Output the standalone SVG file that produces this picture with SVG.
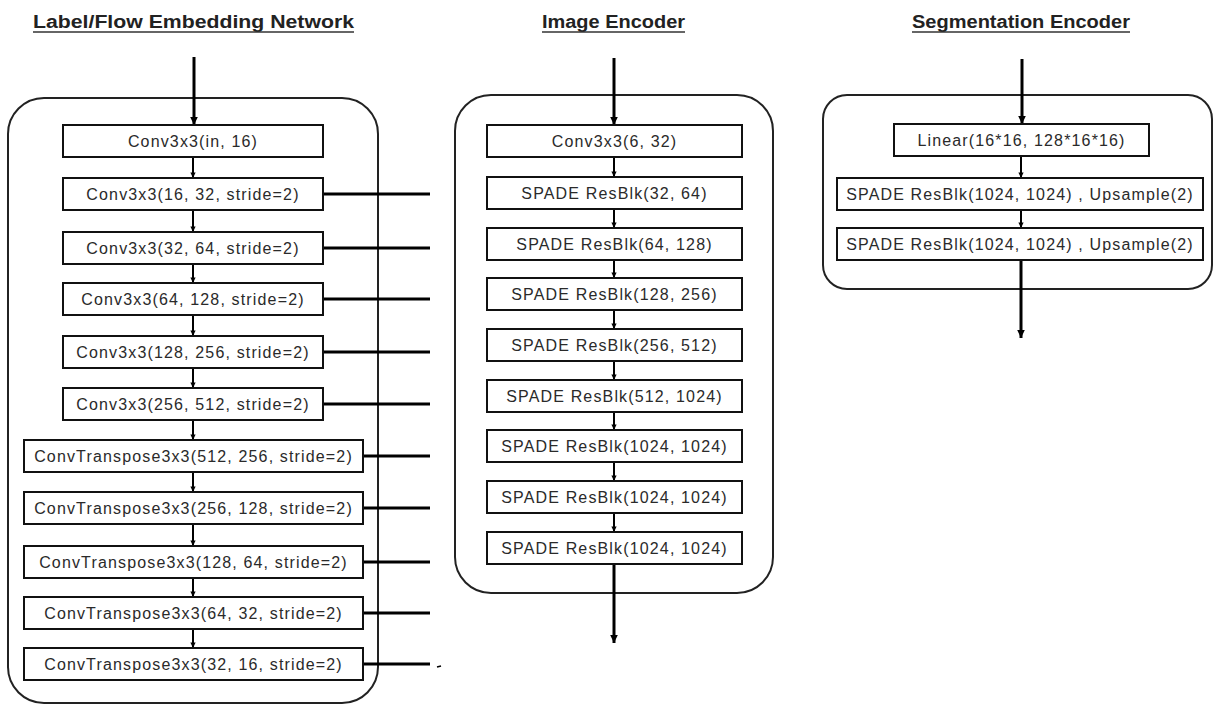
<svg xmlns="http://www.w3.org/2000/svg" width="1214" height="705" viewBox="0 0 1214 705">
<style>
  .title { font-family: "Liberation Sans", Arial, sans-serif; font-weight: bold; font-size: 18px; fill: #222; text-anchor: middle; }
  .uline { stroke: #333; stroke-width: 1.5; }
  .panel { fill: none; stroke: #222; stroke-width: 2; }
  .box { fill: #fff; stroke: #111; stroke-width: 2; }
  .lbl { font-family: "Liberation Sans", Arial, sans-serif; font-size: 16px; fill: #2a2a2a; text-anchor: middle; letter-spacing: 1.15px; }
  .io { stroke: #000; stroke-width: 3; fill: none; }
  .link { stroke: #000; stroke-width: 2; fill: none; }
  .out { stroke: #000; stroke-width: 3; fill: none; }
</style>
<defs>
  <marker id="ah" markerUnits="userSpaceOnUse" markerWidth="10" markerHeight="10" viewBox="0 0 10 10" refX="10" refY="5" orient="auto">
    <path d="M2,1.2 L10,5 L2,8.8 Z" fill="#000"/>
  </marker>
  <marker id="ahs" markerUnits="userSpaceOnUse" markerWidth="6" markerHeight="6" viewBox="0 0 6 6" refX="6" refY="3" orient="auto">
    <path d="M0.5,0.4 L6,3 L0.5,5.6 Z" fill="#000"/>
  </marker>
</defs>

<!-- Titles -->
<g id="titles">
  <text class="title" x="193.5" y="27.5" textLength="321" lengthAdjust="spacingAndGlyphs">Label/Flow Embedding Network</text>
  <line class="uline" x1="33" y1="32" x2="354" y2="32"/>
  <text class="title" x="613.5" y="27.5" textLength="143" lengthAdjust="spacingAndGlyphs">Image Encoder</text>
  <line class="uline" x1="542" y1="32" x2="685" y2="32"/>
  <text class="title" x="1021" y="27.5" textLength="218" lengthAdjust="spacingAndGlyphs">Segmentation Encoder</text>
  <line class="uline" x1="912" y1="32" x2="1130" y2="32"/>
</g>

<!-- Panels -->
<g id="panel-label-flow"><rect class="panel" x="8" y="98" width="370" height="605" rx="36" ry="36"/></g>
<g id="panel-image-encoder"><rect class="panel" x="455" y="95" width="318" height="498" rx="36" ry="36"/></g>
<g id="panel-segmentation-encoder"><rect class="panel" x="823" y="95" width="389" height="194" rx="24" ry="24"/></g>

<!-- Connectors -->
<g id="connectors">
  <!-- left column -->
  <line class="io" x1="194" y1="57" x2="194" y2="125" marker-end="url(#ah)"/>
  <line class="link" x1="193" y1="157" x2="193" y2="178" marker-end="url(#ahs)"/>
  <line class="link" x1="193" y1="210" x2="193" y2="232" marker-end="url(#ahs)"/>
  <line class="link" x1="193" y1="264" x2="193" y2="283" marker-end="url(#ahs)"/>
  <line class="link" x1="193" y1="315" x2="193" y2="336" marker-end="url(#ahs)"/>
  <line class="link" x1="193" y1="368" x2="193" y2="388" marker-end="url(#ahs)"/>
  <line class="link" x1="193" y1="420" x2="193" y2="440" marker-end="url(#ahs)"/>
  <line class="link" x1="193" y1="472" x2="193" y2="492" marker-end="url(#ahs)"/>
  <line class="link" x1="193" y1="524" x2="193" y2="546" marker-end="url(#ahs)"/>
  <line class="link" x1="193" y1="578" x2="193" y2="597" marker-end="url(#ahs)"/>
  <line class="link" x1="193" y1="629" x2="193" y2="648" marker-end="url(#ahs)"/>
  <!-- left outputs -->
  <line class="out" x1="323" y1="194" x2="430" y2="194"/>
  <line class="out" x1="323" y1="248" x2="430" y2="248"/>
  <line class="out" x1="323" y1="299" x2="430" y2="299"/>
  <line class="out" x1="323" y1="352" x2="430" y2="352"/>
  <line class="out" x1="323" y1="404" x2="430" y2="404"/>
  <line class="out" x1="363" y1="456" x2="430" y2="456"/>
  <line class="out" x1="363" y1="508" x2="430" y2="508"/>
  <line class="out" x1="363" y1="562" x2="430" y2="562"/>
  <line class="out" x1="363" y1="613" x2="430" y2="613"/>
  <line class="out" x1="363" y1="664" x2="430" y2="664"/>
  <line x1="437" y1="667" x2="441" y2="666" stroke="#000" stroke-width="1.5"/>
  <!-- middle column -->
  <line class="io" x1="614" y1="58" x2="614" y2="125" marker-end="url(#ah)"/>
  <line class="link" x1="614" y1="157" x2="614" y2="177" marker-end="url(#ahs)"/>
  <line class="link" x1="614" y1="209" x2="614" y2="228" marker-end="url(#ahs)"/>
  <line class="link" x1="614" y1="260" x2="614" y2="278" marker-end="url(#ahs)"/>
  <line class="link" x1="614" y1="310" x2="614" y2="329" marker-end="url(#ahs)"/>
  <line class="link" x1="614" y1="361" x2="614" y2="380" marker-end="url(#ahs)"/>
  <line class="link" x1="614" y1="412" x2="614" y2="430" marker-end="url(#ahs)"/>
  <line class="link" x1="614" y1="462" x2="614" y2="481" marker-end="url(#ahs)"/>
  <line class="link" x1="614" y1="513" x2="614" y2="532" marker-end="url(#ahs)"/>
  <line class="io" x1="614" y1="564" x2="614" y2="643" marker-end="url(#ah)"/>
  <!-- right column -->
  <line class="io" x1="1022" y1="59" x2="1022" y2="124" marker-end="url(#ah)"/>
  <line class="link" x1="1021" y1="156" x2="1021" y2="178" marker-end="url(#ahs)"/>
  <line class="link" x1="1021" y1="210" x2="1021" y2="228" marker-end="url(#ahs)"/>
  <line class="io" x1="1021" y1="260" x2="1021" y2="338" marker-end="url(#ah)"/>
</g>

<!-- Label/Flow Embedding Network nodes -->
<g id="lf-conv-in-16"><rect class="box" x="63" y="125" width="260" height="32"/><text class="lbl" x="193" y="146.5">Conv3x3(in, 16)</text></g>
<g id="lf-conv-16-32"><rect class="box" x="63" y="178" width="260" height="32"/><text class="lbl" x="193" y="199.5">Conv3x3(16, 32, stride=2)</text></g>
<g id="lf-conv-32-64"><rect class="box" x="63" y="232" width="260" height="32"/><text class="lbl" x="193" y="253.5">Conv3x3(32, 64, stride=2)</text></g>
<g id="lf-conv-64-128"><rect class="box" x="63" y="283" width="260" height="32"/><text class="lbl" x="193" y="304.5">Conv3x3(64, 128, stride=2)</text></g>
<g id="lf-conv-128-256"><rect class="box" x="63" y="336" width="260" height="32"/><text class="lbl" x="193" y="357.5">Conv3x3(128, 256, stride=2)</text></g>
<g id="lf-conv-256-512"><rect class="box" x="63" y="388" width="260" height="32"/><text class="lbl" x="193" y="409.5">Conv3x3(256, 512, stride=2)</text></g>
<g id="lf-convt-512-256"><rect class="box" x="24" y="440" width="339" height="32"/><text class="lbl" x="193.5" y="461.5">ConvTranspose3x3(512, 256, stride=2)</text></g>
<g id="lf-convt-256-128"><rect class="box" x="24" y="492" width="339" height="32"/><text class="lbl" x="193.5" y="513.5">ConvTranspose3x3(256, 128, stride=2)</text></g>
<g id="lf-convt-128-64"><rect class="box" x="24" y="546" width="339" height="32"/><text class="lbl" x="193.5" y="567.5">ConvTranspose3x3(128, 64, stride=2)</text></g>
<g id="lf-convt-64-32"><rect class="box" x="24" y="597" width="339" height="32"/><text class="lbl" x="193.5" y="618.5">ConvTranspose3x3(64, 32, stride=2)</text></g>
<g id="lf-convt-32-16"><rect class="box" x="24" y="648" width="339" height="32"/><text class="lbl" x="193.5" y="669.5">ConvTranspose3x3(32, 16, stride=2)</text></g>

<!-- Image Encoder nodes -->
<g id="ie-conv-6-32"><rect class="box" x="487" y="125" width="255" height="32"/><text class="lbl" x="614.5" y="146.5">Conv3x3(6, 32)</text></g>
<g id="ie-spade-32-64"><rect class="box" x="487" y="177" width="255" height="32"/><text class="lbl" x="614.5" y="198.5">SPADE ResBlk(32, 64)</text></g>
<g id="ie-spade-64-128"><rect class="box" x="487" y="228" width="255" height="32"/><text class="lbl" x="614.5" y="249.5">SPADE ResBlk(64, 128)</text></g>
<g id="ie-spade-128-256"><rect class="box" x="487" y="278" width="255" height="32"/><text class="lbl" x="614.5" y="299.5">SPADE ResBlk(128, 256)</text></g>
<g id="ie-spade-256-512"><rect class="box" x="487" y="329" width="255" height="32"/><text class="lbl" x="614.5" y="350.5">SPADE ResBlk(256, 512)</text></g>
<g id="ie-spade-512-1024"><rect class="box" x="487" y="380" width="255" height="32"/><text class="lbl" x="614.5" y="401.5">SPADE ResBlk(512, 1024)</text></g>
<g id="ie-spade-1024-a"><rect class="box" x="487" y="430" width="255" height="32"/><text class="lbl" x="614.5" y="451.5">SPADE ResBlk(1024, 1024)</text></g>
<g id="ie-spade-1024-b"><rect class="box" x="487" y="481" width="255" height="32"/><text class="lbl" x="614.5" y="502.5">SPADE ResBlk(1024, 1024)</text></g>
<g id="ie-spade-1024-c"><rect class="box" x="487" y="532" width="255" height="32"/><text class="lbl" x="614.5" y="553.5">SPADE ResBlk(1024, 1024)</text></g>

<!-- Segmentation Encoder nodes -->
<g id="se-linear"><rect class="box" x="894" y="124" width="255" height="32"/><text class="lbl" x="1021.5" y="145.5">Linear(16*16, 128*16*16)</text></g>
<g id="se-spade-up-a"><rect class="box" x="837" y="178" width="366" height="32"/><text class="lbl" x="1020" y="199.5">SPADE ResBlk(1024, 1024) , Upsample(2)</text></g>
<g id="se-spade-up-b"><rect class="box" x="837" y="228" width="366" height="32"/><text class="lbl" x="1020" y="249.5">SPADE ResBlk(1024, 1024) , Upsample(2)</text></g>
</svg>
